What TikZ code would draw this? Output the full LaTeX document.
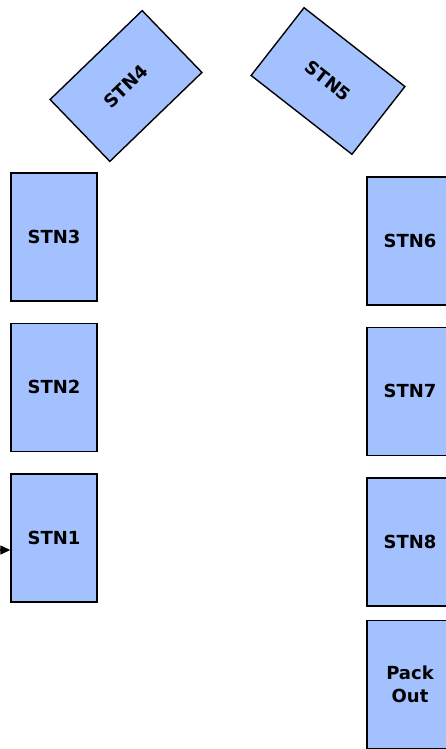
\documentclass[tikz,border=0pt]{standalone}
\usepackage{fontspec}
\setmainfont{DejaVu Sans}
\usetikzlibrary{arrows.meta, positioning}
\definecolor{stnblue}{RGB}{163,193,255}
\tikzset{
  stn/.style ={rectangle, draw=black, line width=1.4pt, fill=stnblue,
               minimum width=86pt, minimum height=128pt, inner sep=0pt,
               align=center, font=\fontsize{18}{23}\selectfont\bfseries},
  stnr/.style={stn, minimum width=128pt, minimum height=86pt},
  arr/.style ={-{Triangle[length=10pt, width=9pt]}, line width=1.4pt}
}
\begin{document}
\begin{tikzpicture}[node distance=21pt and 21pt]
    \useasboundingbox (0pt,0pt) rectangle (445pt,-749pt);
    % left column
    \node[stn] (stn3) at (54pt,-237pt) {STN3};
    \node[stn, below=of stn3] (stn2) {STN2};
    \node[stn, below=of stn2] (stn1) {STN1};
    % turn
    \node[stnr, rotate=44] (stn4) at (126pt,-86pt) {STN4};
    \node[stnr, rotate=-38] (stn5) at (328pt,-81pt) {STN5};
    % right column
    \node[stn] (stn6) at (410pt,-241pt) {STN6};
    \node[stn, below=of stn6] (stn7) {STN7};
    \node[stn, below=of stn7] (stn8) {STN8};
    \node[stn, below=13.5pt of stn8] (pack) {Pack\\Out};
    % infeed
    \coordinate (in) at (-30pt,-550pt);
    \draw[arr] (in) -- (in -| stn1.west);
\end{tikzpicture}
\end{document}
